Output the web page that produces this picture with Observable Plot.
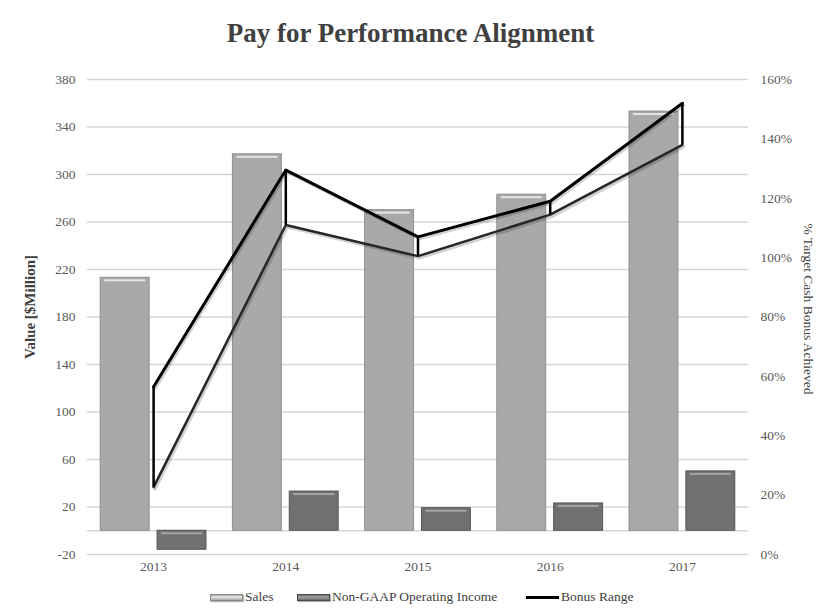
<!DOCTYPE html>
<html>
<head>
<meta charset="utf-8">
<script src="https://cdn.jsdelivr.net/npm/d3@7"></script>
<script src="https://cdn.jsdelivr.net/npm/@observablehq/plot@0.6"></script>
<style>
  body { margin: 0; background: #fff; }
  #wrap { position: relative; width: 821px; height: 614px; overflow: hidden; font-family: "Liberation Serif", serif; }
  #title { position: absolute; top: 17px; left: 0; width: 821px; text-align: center; font-weight: bold; font-size: 27px; color: #404040; line-height: 32px; }
  #chart { position: absolute; top: 60px; left: 0; }
  .lg { position: absolute; top: 589px; height: 16px; display: flex; align-items: center; font-size: 13.5px; color: #404040; white-space: nowrap; }
  .sw { width: 33px; height: 7px; box-sizing: border-box; margin-right: 2px; box-shadow: 1px 1px 1px rgba(0,0,0,0.3); }
</style>
</head>
<body>
<div id="wrap">
  <div id="title">Pay for Performance Alignment</div>
  <div id="chart"></div>
  <div class="lg" style="left:210px"><div class="sw" style="background:linear-gradient(#a8a8a8,#e8e8e8 40%,#a8a8a8);border:1px solid #888"></div>Sales</div>
  <div class="lg" style="left:297px"><div class="sw" style="background:linear-gradient(#6e6e6e,#a0a0a0 40%,#6e6e6e);border:1px solid #4a4a4a"></div>Non-GAAP Operating Income</div>
  <div class="lg" style="left:526px"><div style="width:33px;height:3px;background:#000;margin-right:2px"></div>Bonus Range</div>
</div>
<script>
const years = [2013, 2014, 2015, 2016, 2017];
const sales = [213, 317, 270, 283, 353];
const nonGaap = [-16, 33, 19, 23, 50];
const bonusLow = [22.7, 111, 100.5, 114.5, 138];
const bonusHigh = [56.5, 129.5, 107, 119, 152];
const leftTicks = [-20, 20, 60, 100, 140, 180, 220, 260, 300, 340, 380];
const rightTicks = [0, 20, 40, 60, 80, 100, 120, 140, 160];

const data = years.map((year, i) => ({year, sales: sales[i], ng: nonGaap[i], low: bonusLow[i], high: bonusHigh[i]}));
// map right-axis percentage onto the left value scale (-20..380 <-> 0..160%)
const pct = p => -20 + p * 400 / 160;
const unpct = v => (v + 20) * 160 / 400;

const chart = Plot.plot({
  width: 821,
  height: 525,
  marginLeft: 87,
  marginRight: 73,
  marginTop: 19,
  marginBottom: 31,
  style: {fontFamily: "Liberation Serif", fontSize: "13.5px", color: "#595959", background: "transparent"},
  x: {type: "linear", domain: [2012.5, 2017.5]},
  y: {domain: [-20, 380]},
  marks: [
    Plot.gridY(leftTicks, {stroke: "#d6d6d6", strokeOpacity: 1, strokeWidth: 1.5}),
    Plot.ruleY([0], {stroke: "#d6d6d6", strokeWidth: 1.5}),
    Plot.rect(data, {x1: d => d.year - 0.4, x2: d => d.year - 0.03, y1: 0, y2: "sales", fill: "#a9a9a9", stroke: "#8e8e8e", strokeWidth: 1, ariaLabel: "sales-bars"}),
    Plot.rect(data, {x1: d => d.year - 0.4, x2: d => d.year - 0.03, y1: d => Math.max(d.sales, 0), y2: d => Math.max(d.sales, 0), insetTop: 2, insetBottom: -4, insetLeft: 4, insetRight: 4, fill: "#e4e4e4"}),
    Plot.rect(data, {x1: d => d.year + 0.03, x2: d => d.year + 0.4, y1: 0, y2: "ng", fill: "#717171", stroke: "#555", strokeWidth: 1, ariaLabel: "ng-bars"}),
    Plot.rect(data, {x1: d => d.year + 0.03, x2: d => d.year + 0.4, y1: d => Math.max(d.ng, 0), y2: d => Math.max(d.ng, 0), insetTop: 2, insetBottom: -4, insetLeft: 4, insetRight: 4, fill: "#a4a4a4"}),
    // soft shadows under the bonus range lines
    Plot.lineY(bonusLow, {x: years, y: bonusLow.map(pct), stroke: "#000", strokeOpacity: 0.18, strokeWidth: 3, dx: 1.5, dy: 2}),
    Plot.lineY(bonusHigh, {x: years, y: bonusHigh.map(pct), stroke: "#000", strokeOpacity: 0.18, strokeWidth: 3, dx: 1.5, dy: 2}),
    Plot.lineY(bonusLow, {x: years, y: bonusLow.map(pct), stroke: "#262626", strokeWidth: 2.5}),
    Plot.lineY(bonusHigh, {x: years, y: bonusHigh.map(pct), stroke: "#000", strokeWidth: 3}),
    Plot.ruleX(data, {x: "year", y1: d => pct(d.low), y2: d => pct(d.high), stroke: "#000", strokeWidth: 2.5}),
    Plot.axisY(leftTicks, {anchor: "left", tickSize: 0, tickPadding: 12, label: null, tickFormat: d => String(d), fill: "#595959"}),
    Plot.axisY(rightTicks.map(pct), {anchor: "right", tickSize: 0, tickPadding: 12, label: null, tickFormat: d => Math.round(unpct(d)) + "%", fill: "#595959"}),
    Plot.axisX(years, {anchor: "bottom", tickSize: 0, tickPadding: 7, label: null, tickFormat: d => String(d), fill: "#595959"}),
    Plot.text(["Value [$Million]"], {text: d => d, frameAnchor: "left", textAnchor: "middle", dx: -57, dy: -10, rotate: -90, fontWeight: "bold", fontSize: 15, fill: "#404040"}),
    Plot.text(["% Target Cash Bonus Achieved"], {text: d => d, frameAnchor: "right", textAnchor: "middle", dx: 60, dy: -8, rotate: 90, fontSize: 13.5, fill: "#404040"})
  ]
});

chart.querySelectorAll('g[aria-label="sales-bars"], g[aria-label="ng-bars"]').forEach(g => {
  g.style.filter = "drop-shadow(1.5px 2px 1.5px rgba(0,0,0,0.35))";
});
document.getElementById("chart").appendChild(chart);
</script>
</body>
</html>
